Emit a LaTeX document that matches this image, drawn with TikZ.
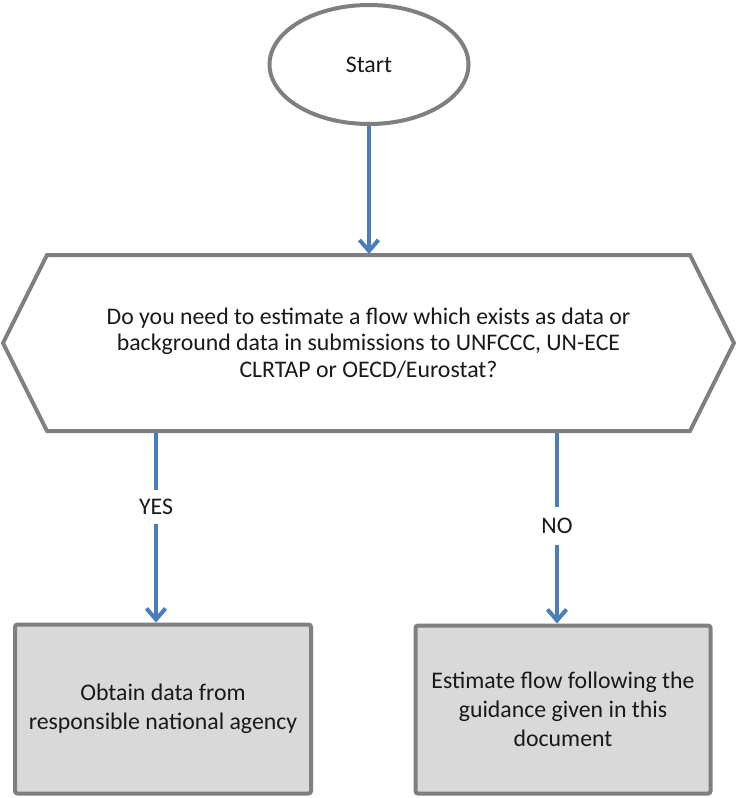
\documentclass[tikz,border=0pt]{standalone}
\usepackage{fontspec}
\setmainfont{Carlito}
\usetikzlibrary{arrows.meta,shapes.geometric}
\definecolor{edgegray}{HTML}{7F7F7F}
\definecolor{boxfill}{HTML}{D9D9D9}
\definecolor{flowblue}{HTML}{4A7EBB}
\begin{document}
\begin{tikzpicture}[x=1pt,y=-1pt,
  txt/.style={font=\fontsize{23.8}{29}\selectfont, align=center, text=black!90},
  startshape/.style={ellipse, draw=edgegray, line width=4pt, fill=white,
    minimum width=199pt, minimum height=119pt, txt},
  actionbox/.style={draw=edgegray, line width=4pt, fill=boxfill,
    rounded corners=2.5pt, txt},
  flow/.style={draw=flowblue, line width=4pt,
    -{Straight Barb[length=11pt,width=19pt,line width=4pt]}},
  flowlabel/.style={fill=white, inner sep=0pt, minimum height=34pt, txt}
]
\useasboundingbox (0,0) rectangle (736,798);

% start terminal
\node[startshape] (start) at (369,64.5) {Start};

% decision hexagon
\coordinate (hw) at (3,343);
\coordinate (hnw) at (47,255);
\coordinate (hne) at (690,255);
\coordinate (he) at (734,343);
\coordinate (hse) at (690,431);
\coordinate (hsw) at (47,431);
\draw[edgegray, line width=4pt, line join=miter, fill=white]
  (hw) -- (hnw) -- (hne) -- (he) -- (hse) -- (hsw) -- cycle;
\node[txt, font=\fontsize{23.8}{26.5}\selectfont] (question) at (368.5,343)
  {Do you need to estimate a flow which exists as data or\\
   background data in submissions to UNFCCC, UN-ECE\\
   CLRTAP or OECD/Eurostat?};
\coordinate (qtop) at (369,254);
\coordinate (qyes) at (156,433);
\coordinate (qno) at (557,433);

% outcome boxes
\node[actionbox, minimum width=296pt, minimum height=169pt] (obtain) at (163,709)
  {Obtain data from\\responsible national agency};
\node[actionbox, minimum width=295pt, minimum height=168pt] (estimate) at (563,709.5)
  {Estimate flow following the\\guidance given in this\\document};

% connectors
\draw[flow] (start.south) -- (qtop);
\draw[flow] (qyes) -- (qyes |- obtain.north)
  node[flowlabel, pos=0.39] (yes) {YES};
\draw[flow] (qno) -- (qno |- estimate.north)
  node[flowlabel, pos=0.49, minimum height=38pt] (no) {NO};
\end{tikzpicture}
\end{document}
